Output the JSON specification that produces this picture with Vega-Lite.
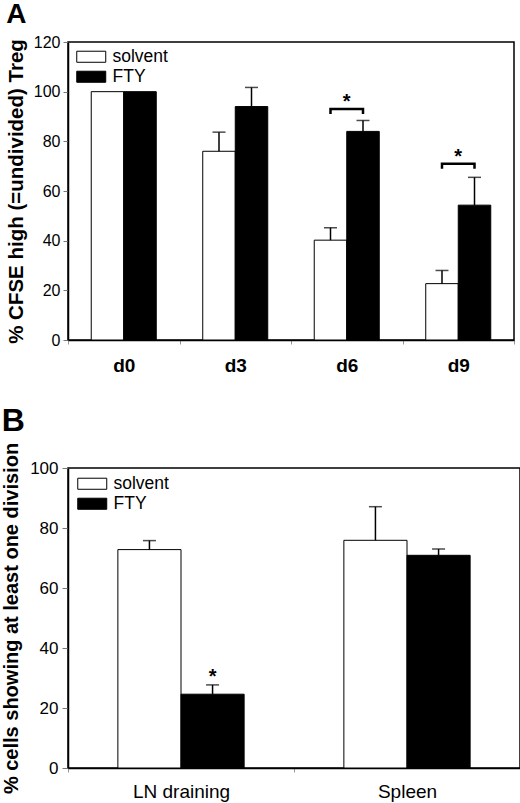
{
  "$schema": "https://vega.github.io/schema/vega-lite/v6.json",
  "background": "white",
  "padding": {"left": 0, "top": 0, "right": 0, "bottom": 0},
  "spacing": 28,
  "resolve": {"scale": {"xOffset": "independent", "fill": "independent"}, "legend": {"fill": "independent"}},
  "datasets": {
    "bars_a": [
      {"day": "d0", "group": "solvent", "value": 100, "err": null},
      {"day": "d0", "group": "FTY", "value": 100, "err": null},
      {"day": "d3", "group": "solvent", "value": 76, "err": 83.7},
      {"day": "d3", "group": "FTY", "value": 94, "err": 101.7},
      {"day": "d6", "group": "solvent", "value": 40.2, "err": 45.2},
      {"day": "d6", "group": "FTY", "value": 84, "err": 88.4},
      {"day": "d9", "group": "solvent", "value": 22.7, "err": 28},
      {"day": "d9", "group": "FTY", "value": 54.3, "err": 65.5}
    ],
    "brackets_a": [
      {"day": "d6", "group": "solvent", "y": 91, "step": 1},
      {"day": "d6", "group": "solvent", "y": 93, "step": 2},
      {"day": "d6", "group": "FTY", "y": 93, "step": 3},
      {"day": "d6", "group": "FTY", "y": 91, "step": 4},
      {"day": "d9", "group": "solvent", "y": 69, "step": 1},
      {"day": "d9", "group": "solvent", "y": 71, "step": 2},
      {"day": "d9", "group": "FTY", "y": 71, "step": 3},
      {"day": "d9", "group": "FTY", "y": 69, "step": 4}
    ],
    "stars_a": [
      {"day": "d6", "y": 93, "label": "*"},
      {"day": "d9", "y": 71, "label": "*"}
    ],
    "bars_b": [
      {"site": "LN draining", "group": "solvent", "value": 72.8, "err": 75.8},
      {"site": "LN draining", "group": "FTY", "value": 24.6, "err": 27.7},
      {"site": "Spleen", "group": "solvent", "value": 75.9, "err": 87.1},
      {"site": "Spleen", "group": "FTY", "value": 70.9, "err": 73}
    ],
    "stars_b": [
      {"site": "LN draining", "group": "FTY", "y": 28.5, "label": "*"}
    ]
  },
  "vconcat": [
    {
      "title": {"text": "A", "anchor": "start", "fontSize": 28, "fontWeight": "bold", "offset": 5},
      "width": 446,
      "height": 298,
      "encoding": {
        "x": {
          "field": "day",
          "type": "nominal",
          "sort": ["d0", "d3", "d6", "d9"],
          "title": null,
          "scale": {"paddingInner": 0, "paddingOuter": 0},
          "axis": {"labelAngle": 0, "labelFontWeight": "bold", "labelFontSize": 19, "labelPadding": 12, "tickBand": "extent", "tickSize": 4, "tickColor": "#999999"}
        }
      },
      "layer": [
        {
          "data": {"name": "bars_a"},
          "mark": {"type": "bar", "stroke": "black", "strokeWidth": 1},
          "encoding": {
            "xOffset": {"field": "group", "type": "nominal", "sort": ["solvent", "FTY"], "scale": {"paddingInner": 0, "paddingOuter": 0.715}},
            "y": {
              "field": "value",
              "type": "quantitative",
              "title": "% CFSE high (=undivided) Treg",
              "scale": {"domain": [0, 120]},
              "axis": {"values": [0, 20, 40, 60, 80, 100, 120], "titlePadding": 7, "titleFontSize": 20.5}
            },
            "fill": {
              "field": "group",
              "type": "nominal",
              "sort": ["solvent", "FTY"],
              "scale": {"domain": ["solvent", "FTY"], "range": ["white", "black"]},
              "legend": {"title": null, "orient": "top-left", "offset": 6}
            }
          }
        },
        {
          "data": {"name": "bars_a"},
          "transform": [{"filter": "datum.err != null"}],
          "mark": {"type": "rule", "color": "black", "strokeWidth": 1.5},
          "encoding": {
            "xOffset": {"field": "group", "type": "nominal", "sort": ["solvent", "FTY"]},
            "y": {"field": "value", "type": "quantitative"},
            "y2": {"field": "err"}
          }
        },
        {
          "data": {"name": "bars_a"},
          "transform": [{"filter": "datum.err != null"}],
          "mark": {"type": "tick", "color": "black", "size": 13, "thickness": 1.5},
          "encoding": {
            "xOffset": {"field": "group", "type": "nominal", "sort": ["solvent", "FTY"]},
            "y": {"field": "err", "type": "quantitative"}
          }
        },
        {
          "data": {"name": "brackets_a"},
          "mark": {"type": "line", "color": "black", "strokeWidth": 2.5, "interpolate": "linear"},
          "encoding": {
            "xOffset": {"field": "group", "type": "nominal", "sort": ["solvent", "FTY"]},
            "y": {"field": "y", "type": "quantitative"},
            "detail": {"field": "day"},
            "order": {"field": "step"}
          }
        },
        {
          "data": {"name": "stars_a"},
          "mark": {"type": "text", "fontSize": 20, "fontWeight": "bold", "baseline": "alphabetic", "dy": -1},
          "encoding": {
            "y": {"field": "y", "type": "quantitative"},
            "text": {"field": "label"}
          }
        }
      ]
    },
    {
      "title": {"text": "B", "anchor": "start", "fontSize": 32, "fontWeight": "bold", "offset": 4},
      "width": 452,
      "height": 300,
      "encoding": {
        "x": {
          "field": "site",
          "type": "nominal",
          "title": null,
          "scale": {"paddingInner": 0, "paddingOuter": 0},
          "axis": {"labelAngle": 0, "labelFontSize": 19, "labelPadding": 10, "tickBand": "extent", "tickSize": 4, "tickColor": "#999999"}
        }
      },
      "layer": [
        {
          "data": {"name": "bars_b"},
          "mark": {"type": "bar", "stroke": "black", "strokeWidth": 1},
          "encoding": {
            "xOffset": {"field": "group", "type": "nominal", "sort": ["solvent", "FTY"], "scale": {"paddingInner": 0, "paddingOuter": 0.79}},
            "y": {
              "field": "value",
              "type": "quantitative",
              "title": "% cells showing at least one division",
              "scale": {"domain": [0, 100]},
              "axis": {"values": [0, 20, 40, 60, 80, 100], "labelFontSize": 17, "tickSize": 6, "labelPadding": 4, "titlePadding": 8, "titleFontSize": 20}
            },
            "fill": {
              "field": "group",
              "type": "nominal",
              "sort": ["solvent", "FTY"],
              "scale": {"domain": ["solvent", "FTY"], "range": ["white", "black"]},
              "legend": {"title": null, "orient": "top-left", "offset": 7}
            }
          }
        },
        {
          "data": {"name": "bars_b"},
          "mark": {"type": "rule", "color": "black", "strokeWidth": 1.5},
          "encoding": {
            "xOffset": {"field": "group", "type": "nominal", "sort": ["solvent", "FTY"]},
            "y": {"field": "value", "type": "quantitative"},
            "y2": {"field": "err"}
          }
        },
        {
          "data": {"name": "bars_b"},
          "mark": {"type": "tick", "color": "black", "size": 13, "thickness": 1.5},
          "encoding": {
            "xOffset": {"field": "group", "type": "nominal", "sort": ["solvent", "FTY"]},
            "y": {"field": "err", "type": "quantitative"}
          }
        },
        {
          "data": {"name": "stars_b"},
          "mark": {"type": "text", "fontSize": 20, "fontWeight": "bold", "baseline": "alphabetic"},
          "encoding": {
            "xOffset": {"field": "group", "type": "nominal", "sort": ["solvent", "FTY"]},
            "y": {"field": "y", "type": "quantitative"},
            "text": {"field": "label"}
          }
        }
      ]
    }
  ],
  "config": {
    "font": "Liberation Sans",
    "view": {"stroke": "black", "strokeWidth": 1.5},
    "axis": {
      "grid": false,
      "domainColor": "black",
      "domainWidth": 1.5,
      "labelColor": "black",
      "labelFont": "Liberation Sans",
      "labelFontSize": 16,
      "labelPadding": 3,
      "tickColor": "#777777",
      "tickSize": 5,
      "titleColor": "black",
      "titleFont": "Liberation Sans",
      "titleFontSize": 20,
      "titleFontWeight": "bold"
    },
    "legend": {
      "symbolType": "M-1,-0.92H3.833V0.92H-1Z",
      "symbolSize": 144,
      "symbolStrokeColor": "black",
      "symbolStrokeWidth": 1,
      "symbolOpacity": 1,
      "labelFontSize": 17.5,
      "labelColor": "black",
      "labelFont": "Liberation Sans",
      "labelOffset": 21,
      "rowPadding": 1,
      "padding": 0
    },
    "title": {"font": "Liberation Sans", "color": "black"}
  }
}
